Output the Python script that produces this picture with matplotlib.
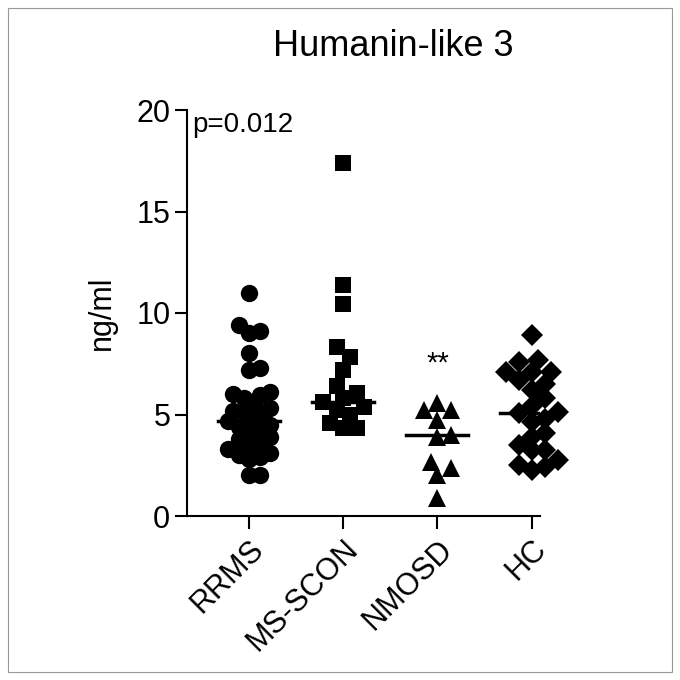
import numpy as np
import matplotlib.pyplot as plt
from matplotlib.patches import Rectangle

plt.rcParams["font.family"] = ["Liberation Sans", "DejaVu Sans"]

groups = ["RRMS", "MS-SCON", "NMOSD", "HC"]
rrms = [11.0, 9.4, 9.1, 9.0, 8.05, 7.3, 7.2, 6.1, 6.0, 5.95, 5.8, 5.5, 5.3,
        5.15, 5.1, 4.9, 4.7, 4.6, 4.5, 4.4, 4.2, 4.0, 3.9, 3.8, 3.5, 3.4,
        3.3, 3.1, 3.0, 2.9, 2.8, 2.0, 2.0]
ms_scon = [17.37, 11.38, 10.44, 8.34, 7.85, 7.19, 6.40, 6.04, 5.80, 5.6,
           5.38, 5.22, 4.98, 4.57, 4.32, 4.32]
nmosd = [5.55, 5.22, 5.22, 4.73, 3.99, 3.91, 2.67, 2.35, 2.02, 0.87]
hc = [8.9, 7.7, 7.6, 7.1, 7.1, 7.1, 6.7, 6.5, 6.2, 5.8, 5.4, 5.1, 5.05,
      4.8, 4.65, 4.07, 3.9, 3.5, 3.25, 3.25, 2.76, 2.5, 2.43, 2.25]
medians = [4.7, 5.6, 4.0, 5.05]
markers = ["o", "s", "^", "D"]
marker_sizes = [12.5, 12, 13.5, 11.5]
swarm_gap = [10.5, 13.5, 13.5, 13]
p_text = "p=0.012"
star_text = "**"


def swarm_offsets(values, min_dist, px_per_x, px_per_y):
    # simple beeswarm: put each point as close to the centre as it can go
    values = np.asarray(values, dtype=float)
    order = np.argsort(values)
    placed = []
    offsets = np.zeros(len(values))
    step = min_dist / 2.0
    for i in order:
        y = values[i] * px_per_y
        k = 0
        while True:
            cands = [0.0] if k == 0 else [k * step, -k * step]
            found = None
            for c in cands:
                if all((c - px) ** 2 + (y - py) ** 2 >= min_dist ** 2
                       for px, py in placed):
                    found = c
                    break
            if found is not None:
                break
            k += 1
        placed.append((found, y))
        offsets[i] = found / px_per_x
    return offsets


fig = plt.figure(figsize=(6.8, 6.8), dpi=100)
ax = fig.add_axes([187 / 680, 164 / 680, 353 / 680, 406 / 680])
ax.set_xlim(-0.66, 3.09)
ax.set_ylim(0, 20)

bbox = ax.get_window_extent()
px_per_x = bbox.width / 3.75
px_per_y = bbox.height / 20.0

data = [rrms, ms_scon, nmosd, hc]
for i, vals in enumerate(data):
    offs = swarm_offsets(vals, swarm_gap[i], px_per_x, px_per_y)
    ax.plot(i + offs, vals, linestyle="none", marker=markers[i],
            markersize=marker_sizes[i], color="black", markeredgewidth=0,
            clip_on=False, zorder=3)
    ax.plot([i - 0.33, i + 0.33], [medians[i], medians[i]], color="black",
            linewidth=2.5, zorder=4)

ax.text(2, 7.5, star_text, ha="center", va="center", fontsize=21)
ax.text(0.015, 0.995, p_text, transform=ax.transAxes, ha="left", va="top",
        fontsize=20)

ax.set_xticks(range(len(groups)))
ax.set_xticklabels(groups, rotation=45, ha="right", rotation_mode="anchor",
                   fontsize=22)
ax.set_yticks([0, 5, 10, 15, 20])
ax.tick_params(axis="y", labelsize=22, length=9, width=1.5, pad=3)
ax.tick_params(axis="x", length=9, width=1.5, pad=4)
ax.set_ylabel("ng/ml", fontsize=22, labelpad=14)
fig.text(393 / 680, 1 - 47 / 680, "Humanin-like 3", ha="center",
         va="center", fontsize=26)

for s in ["top", "right"]:
    ax.spines[s].set_visible(False)
for s in ["left", "bottom"]:
    ax.spines[s].set_linewidth(1.5)

fig.patches.append(Rectangle((8 / 680, 8 / 680), 664 / 680, 664 / 680,
                             transform=fig.transFigure, fill=False,
                             edgecolor="#999999", linewidth=0.8))

fig.savefig("out.png", dpi=100)
